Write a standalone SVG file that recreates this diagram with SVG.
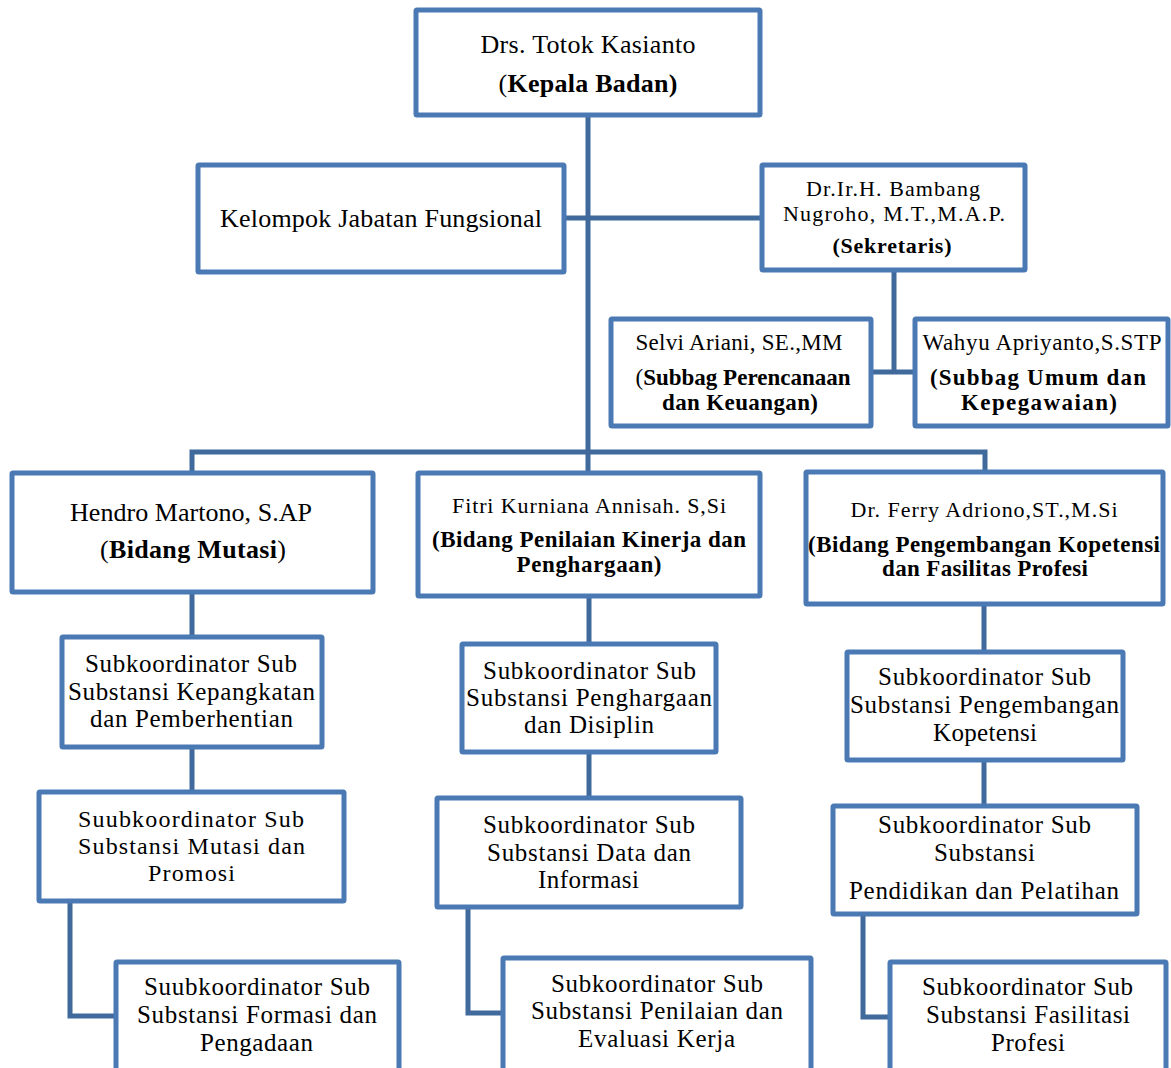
<svg xmlns="http://www.w3.org/2000/svg" width="1171" height="1068" viewBox="0 0 1171 1068">
<style>
.box{fill:#fff;stroke:#4a79b3;stroke-width:5}
.con{fill:none;stroke:#40699c;stroke-width:5}
text{font-family:"Liberation Serif","Times New Roman",serif;fill:#000;text-anchor:middle}
.f26{font-size:26px}
.f25{font-size:25px}
.f24{font-size:24px}
.f23{font-size:23px}
.f22{font-size:22px}
.b{font-weight:bold}
.n{font-weight:normal}
</style>
<rect width="1171" height="1068" fill="#fff"/>
<g id="connectors">
<path class="con" d="M588 115V473"/>
<path class="con" d="M564 218H762"/>
<path class="con" d="M894 270V372M871 372H915"/>
<path class="con" d="M192 473V452H985V472"/>
<path class="con" d="M192 592V637M192 747V792M70 901V1016H116"/>
<path class="con" d="M589 596V644M589 752V798M468 907V1013H503"/>
<path class="con" d="M984 604V652M984 760V806M863 914V1017H890"/>
</g>
<g id="kepala">
<rect class="box" x="416" y="10" width="344" height="105" rx="1"/>
<text class="f26" x="588" y="53" textLength="215">Drs. Totok Kasianto</text>
<text class="f26 b" x="588" y="92" textLength="179"><tspan class="n">(</tspan>Kepala Badan)</text>
</g>
<g id="kelompok">
<rect class="box" x="198" y="165" width="366" height="107" rx="1"/>
<text class="f26" x="381" y="227" textLength="322">Kelompok Jabatan Fungsional</text>
</g>
<g id="sekretaris">
<rect class="box" x="762" y="165" width="263" height="105" rx="1"/>
<text class="f22" x="893" y="196" textLength="174">Dr.Ir.H. Bambang</text>
<text class="f22" x="894" y="221" textLength="222">Nugroho, M.T.,M.A.P.</text>
<text class="f22 b" x="892" y="253" textLength="119">(Sekretaris)</text>
</g>
<g id="subbag-perencanaan">
<rect class="box" x="611" y="319" width="260" height="107" rx="1"/>
<text class="f23" x="739" y="350" textLength="207">Selvi Ariani, SE.,MM</text>
<text class="f23 b" x="743" y="385" textLength="215"><tspan class="n">(</tspan>Subbag Perencanaan</text>
<text class="f23 b" x="740" y="410" textLength="156">dan Keuangan)</text>
</g>
<g id="subbag-umum">
<rect class="box" x="915" y="319" width="253" height="107" rx="1"/>
<text class="f23" x="1042" y="350" textLength="239">Wahyu Apriyanto,S.STP</text>
<text class="f23 b" x="1038" y="385" textLength="216">(Subbag Umum dan</text>
<text class="f23 b" x="1039" y="410" textLength="156">Kepegawaian)</text>
</g>
<g id="bidang-mutasi">
<rect class="box" x="12" y="473" width="361" height="119" rx="1"/>
<text class="f26" x="191" y="521" textLength="242">Hendro Martono, S.AP</text>
<text class="f26 b" x="193" y="558" textLength="186"><tspan class="n">(</tspan>Bidang Mutasi<tspan class="n">)</tspan></text>
</g>
<g id="bidang-penilaian">
<rect class="box" x="418" y="473" width="342" height="123" rx="1"/>
<text class="f22" x="589" y="513" textLength="274">Fitri Kurniana Annisah. S,Si</text>
<text class="f23 b" x="589" y="547" textLength="314">(Bidang Penilaian Kinerja dan</text>
<text class="f23 b" x="589" y="572" textLength="145">Penghargaan)</text>
</g>
<g id="bidang-pengembangan">
<rect class="box" x="806" y="472" width="357" height="132" rx="1"/>
<text class="f22" x="984" y="517" textLength="267">Dr. Ferry Adriono,ST.,M.Si</text>
<text class="f23 b" x="984" y="552" textLength="352">(Bidang Pengembangan Kopetensi</text>
<text class="f23 b" x="985" y="576" textLength="206">dan Fasilitas Profesi</text>
</g>
<g id="sub-kepangkatan">
<rect class="box" x="62" y="637" width="260" height="110" rx="1"/>
<text class="f25" x="191" y="672" textLength="212">Subkoordinator Sub</text>
<text class="f25" x="191.5" y="700" textLength="247">Substansi Kepangkatan</text>
<text class="f25" x="191.5" y="727" textLength="203">dan Pemberhentian</text>
</g>
<g id="sub-mutasi">
<rect class="box" x="39" y="792" width="305" height="109" rx="1"/>
<text class="f24" x="191" y="827" textLength="226">Suubkoordinator Sub</text>
<text class="f24" x="191.5" y="854" textLength="227">Substansi Mutasi dan</text>
<text class="f24" x="191.5" y="881" textLength="87">Promosi</text>
</g>
<g id="sub-formasi">
<rect class="box" x="116" y="962" width="283" height="115" rx="1"/>
<text class="f25" x="257" y="995" textLength="226">Suubkoordinator Sub</text>
<text class="f25" x="257" y="1023" textLength="240">Substansi Formasi dan</text>
<text class="f25" x="256.5" y="1051" textLength="113">Pengadaan</text>
</g>
<g id="sub-penghargaan">
<rect class="box" x="462" y="644" width="254" height="108" rx="1"/>
<text class="f25" x="589.5" y="679" textLength="213">Subkoordinator Sub</text>
<text class="f25" x="589" y="706" textLength="246">Substansi Penghargaan</text>
<text class="f25" x="589" y="733" textLength="130">dan Disiplin</text>
</g>
<g id="sub-data">
<rect class="box" x="437" y="798" width="304" height="109" rx="1"/>
<text class="f25" x="589" y="833" textLength="212">Subkoordinator Sub</text>
<text class="f25" x="589" y="861" textLength="204">Substansi Data dan</text>
<text class="f25" x="588.5" y="888" textLength="101">Informasi</text>
</g>
<g id="sub-penilaian">
<rect class="box" x="503" y="958" width="308" height="115" rx="1"/>
<text class="f25" x="657" y="992" textLength="212">Subkoordinator Sub</text>
<text class="f25" x="657" y="1019" textLength="252">Substansi Penilaian dan</text>
<text class="f25" x="656.5" y="1047" textLength="157">Evaluasi Kerja</text>
</g>
<g id="sub-pengembangan">
<rect class="box" x="847" y="652" width="276" height="108" rx="1"/>
<text class="f25" x="984.5" y="685" textLength="213">Subkoordinator Sub</text>
<text class="f25" x="984.5" y="713" textLength="269">Substansi Pengembangan</text>
<text class="f25" x="985" y="741" textLength="104">Kopetensi</text>
</g>
<g id="sub-pendidikan">
<rect class="box" x="833" y="806" width="304" height="108" rx="1"/>
<text class="f25" x="984.5" y="833" textLength="213">Subkoordinator Sub</text>
<text class="f25" x="984.5" y="861" textLength="101">Substansi</text>
<text class="f25" x="984" y="899" textLength="270">Pendidikan dan Pelatihan</text>
</g>
<g id="sub-fasilitasi">
<rect class="box" x="890" y="962" width="276" height="115" rx="1"/>
<text class="f25" x="1027.5" y="995" textLength="211">Subkoordinator Sub</text>
<text class="f25" x="1028" y="1023" textLength="204">Substansi Fasilitasi</text>
<text class="f25" x="1028" y="1051" textLength="74">Profesi</text>
</g>
</svg>
